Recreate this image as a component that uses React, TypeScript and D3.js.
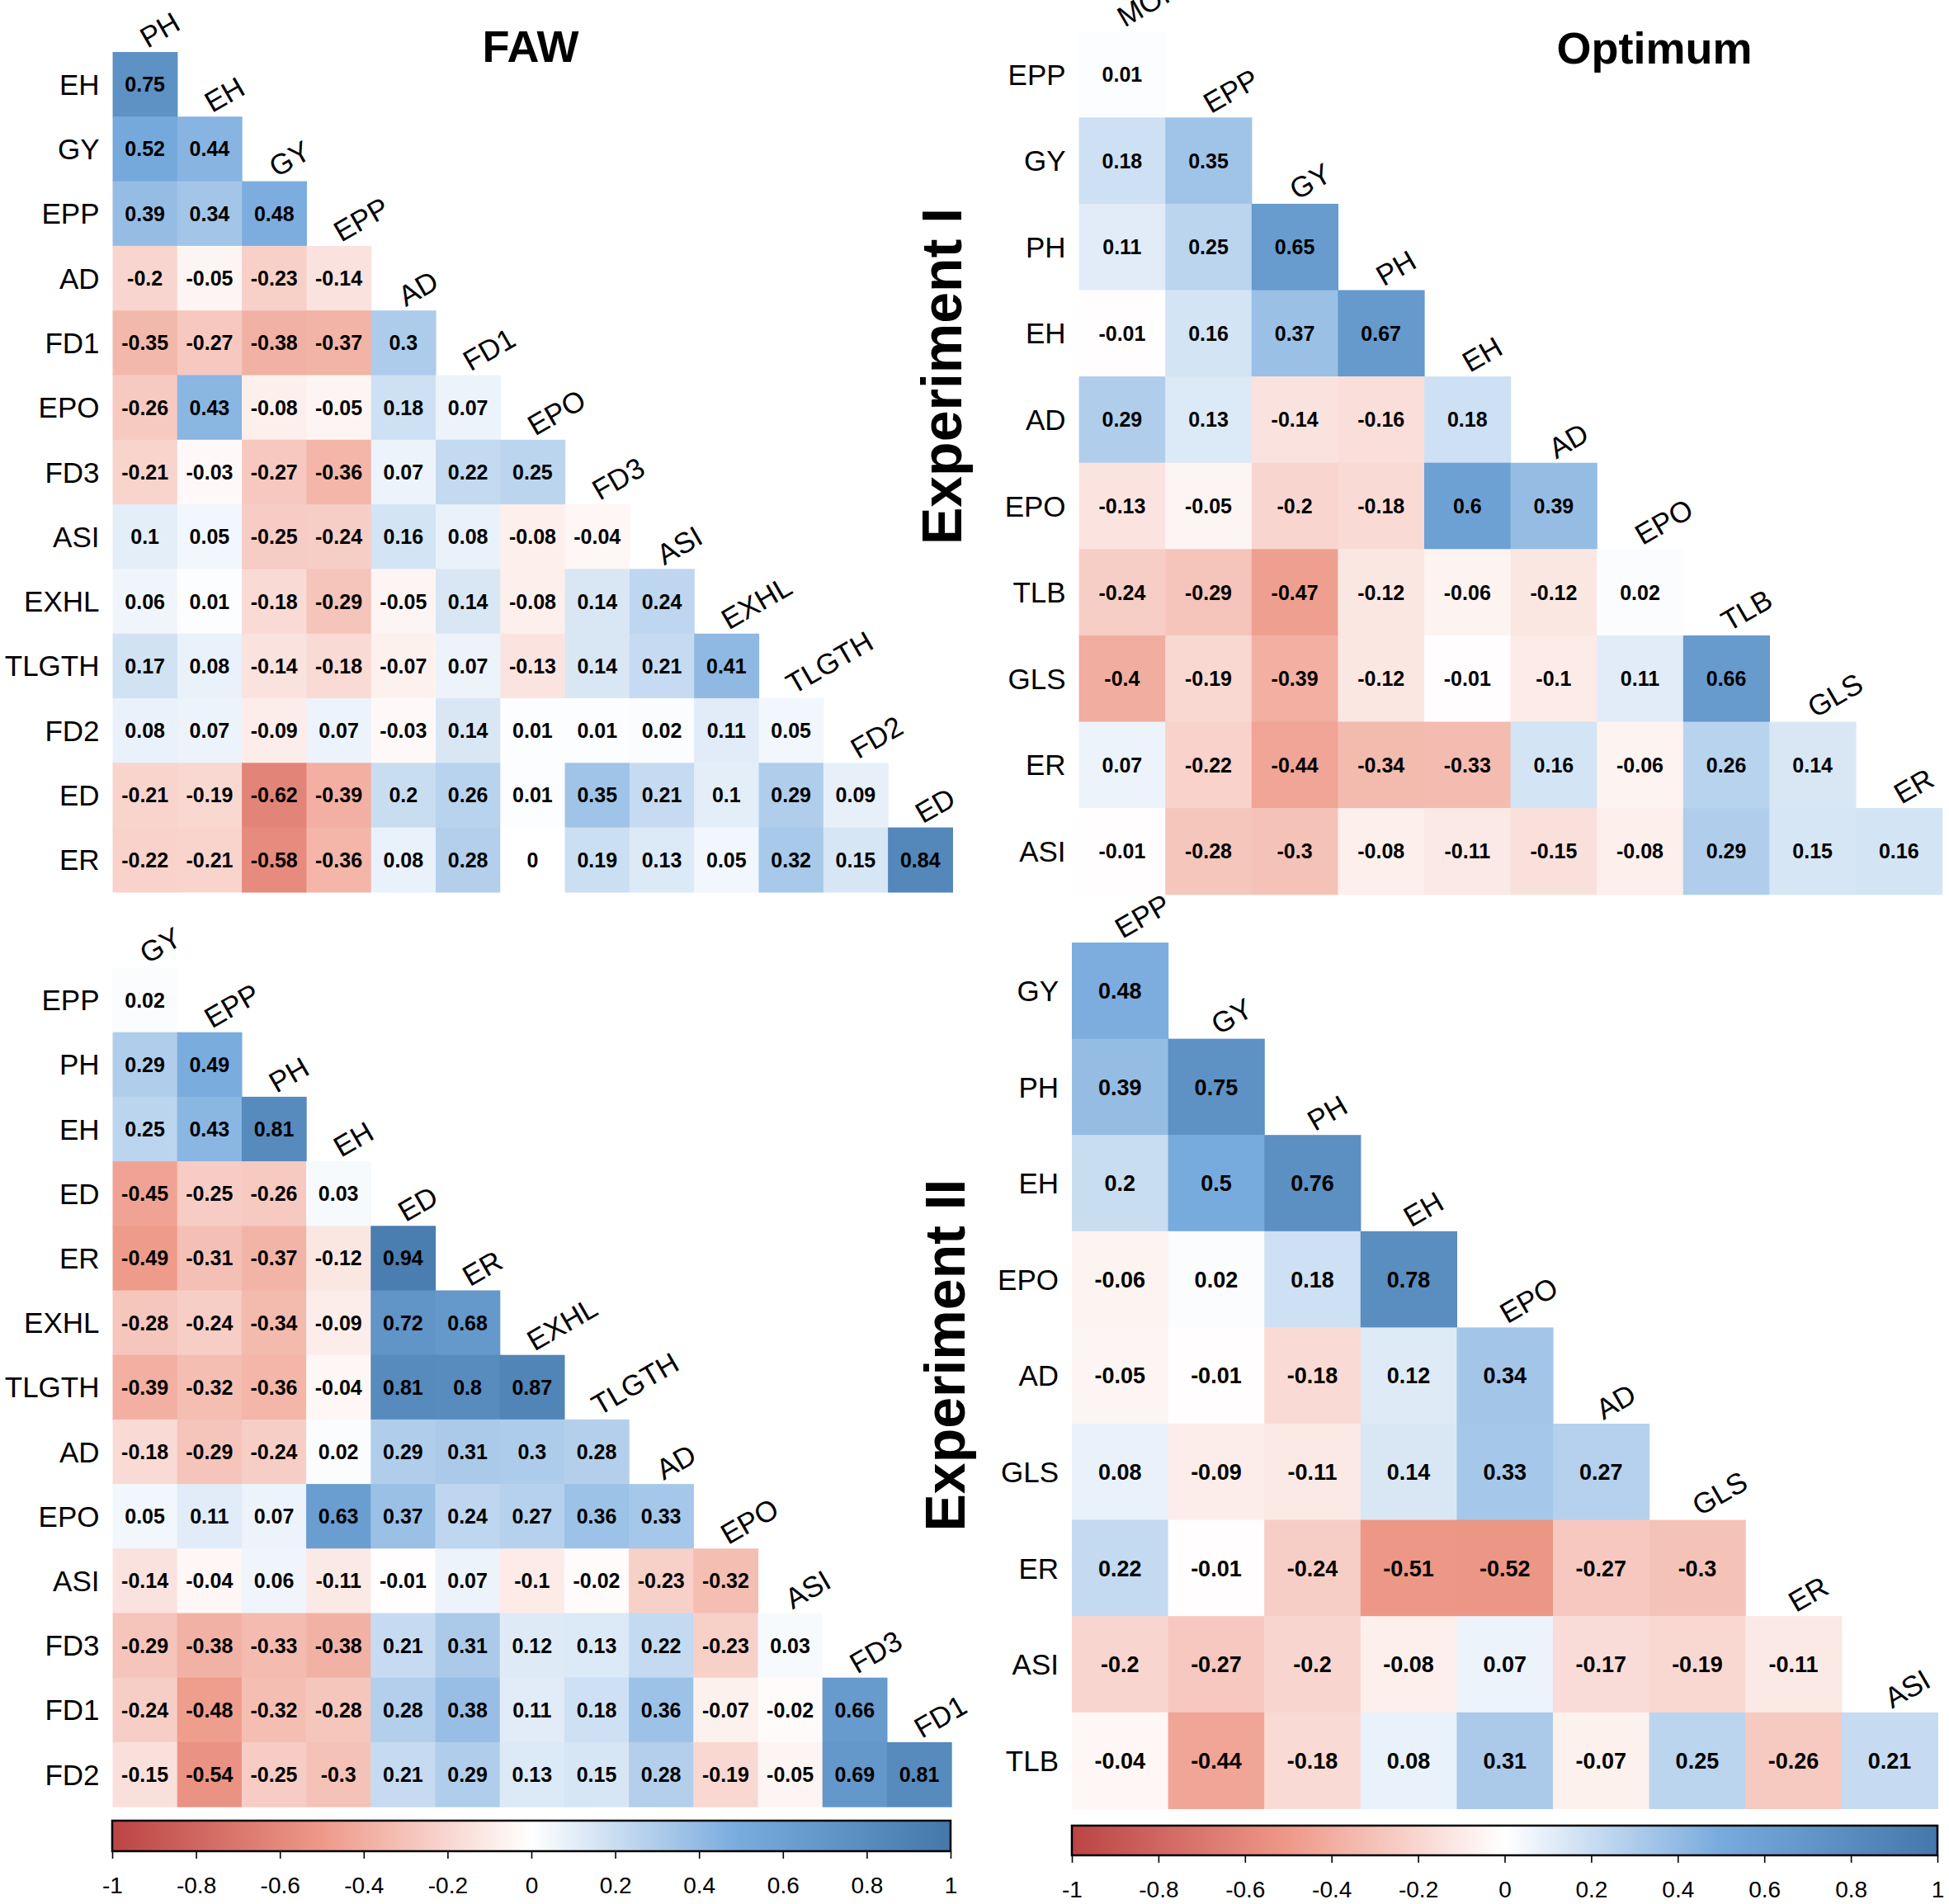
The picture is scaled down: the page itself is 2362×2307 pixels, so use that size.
import React, {useRef, useEffect} from 'react'
import * as d3 from 'd3'

// colour ramp used by the cells and the legends
const palette = ['#BB4444', '#EE9988', '#FFFFFF', '#77AADD', '#4477AA']
const paletteStops = [-1, -0.5, 0, 0.5, 1]
const legendTicks = [-1, -0.8, -0.6, -0.4, -0.2, 0, 0.2, 0.4, 0.6, 0.8, 1]

// FAW, experiment I
const fawOneVars = ['PH', 'EH', 'GY', 'EPP', 'AD', 'FD1', 'EPO', 'FD3', 'ASI', 'EXHL', 'TLGTH', 'FD2', 'ED', 'ER']
const fawOneValues = [
  [0.75],
  [0.52, 0.44],
  [0.39, 0.34, 0.48],
  [-0.2, -0.05, -0.23, -0.14],
  [-0.35, -0.27, -0.38, -0.37, 0.3],
  [-0.26, 0.43, -0.08, -0.05, 0.18, 0.07],
  [-0.21, -0.03, -0.27, -0.36, 0.07, 0.22, 0.25],
  [0.1, 0.05, -0.25, -0.24, 0.16, 0.08, -0.08, -0.04],
  [0.06, 0.01, -0.18, -0.29, -0.05, 0.14, -0.08, 0.14, 0.24],
  [0.17, 0.08, -0.14, -0.18, -0.07, 0.07, -0.13, 0.14, 0.21, 0.41],
  [0.08, 0.07, -0.09, 0.07, -0.03, 0.14, 0.01, 0.01, 0.02, 0.11, 0.05],
  [-0.21, -0.19, -0.62, -0.39, 0.2, 0.26, 0.01, 0.35, 0.21, 0.1, 0.29, 0.09],
  [-0.22, -0.21, -0.58, -0.36, 0.08, 0.28, 0, 0.19, 0.13, 0.05, 0.32, 0.15, 0.84]
]

// Optimum, experiment I
const optOneVars = ['MOI', 'EPP', 'GY', 'PH', 'EH', 'AD', 'EPO', 'TLB', 'GLS', 'ER', 'ASI']
const optOneValues = [
  [0.01],
  [0.18, 0.35],
  [0.11, 0.25, 0.65],
  [-0.01, 0.16, 0.37, 0.67],
  [0.29, 0.13, -0.14, -0.16, 0.18],
  [-0.13, -0.05, -0.2, -0.18, 0.6, 0.39],
  [-0.24, -0.29, -0.47, -0.12, -0.06, -0.12, 0.02],
  [-0.4, -0.19, -0.39, -0.12, -0.01, -0.1, 0.11, 0.66],
  [0.07, -0.22, -0.44, -0.34, -0.33, 0.16, -0.06, 0.26, 0.14],
  [-0.01, -0.28, -0.3, -0.08, -0.11, -0.15, -0.08, 0.29, 0.15, 0.16]
]

// FAW, experiment II
const fawTwoVars = ['GY', 'EPP', 'PH', 'EH', 'ED', 'ER', 'EXHL', 'TLGTH', 'AD', 'EPO', 'ASI', 'FD3', 'FD1', 'FD2']
const fawTwoValues = [
  [0.02],
  [0.29, 0.49],
  [0.25, 0.43, 0.81],
  [-0.45, -0.25, -0.26, 0.03],
  [-0.49, -0.31, -0.37, -0.12, 0.94],
  [-0.28, -0.24, -0.34, -0.09, 0.72, 0.68],
  [-0.39, -0.32, -0.36, -0.04, 0.81, 0.8, 0.87],
  [-0.18, -0.29, -0.24, 0.02, 0.29, 0.31, 0.3, 0.28],
  [0.05, 0.11, 0.07, 0.63, 0.37, 0.24, 0.27, 0.36, 0.33],
  [-0.14, -0.04, 0.06, -0.11, -0.01, 0.07, -0.1, -0.02, -0.23, -0.32],
  [-0.29, -0.38, -0.33, -0.38, 0.21, 0.31, 0.12, 0.13, 0.22, -0.23, 0.03],
  [-0.24, -0.48, -0.32, -0.28, 0.28, 0.38, 0.11, 0.18, 0.36, -0.07, -0.02, 0.66],
  [-0.15, -0.54, -0.25, -0.3, 0.21, 0.29, 0.13, 0.15, 0.28, -0.19, -0.05, 0.69, 0.81]
]

// Optimum, experiment II
const optTwoVars = ['EPP', 'GY', 'PH', 'EH', 'EPO', 'AD', 'GLS', 'ER', 'ASI', 'TLB']
const optTwoValues = [
  [0.48],
  [0.39, 0.75],
  [0.2, 0.5, 0.76],
  [-0.06, 0.02, 0.18, 0.78],
  [-0.05, -0.01, -0.18, 0.12, 0.34],
  [0.08, -0.09, -0.11, 0.14, 0.33, 0.27],
  [0.22, -0.01, -0.24, -0.51, -0.52, -0.27, -0.3],
  [-0.2, -0.27, -0.2, -0.08, 0.07, -0.17, -0.19, -0.11],
  [-0.04, -0.44, -0.18, 0.08, 0.31, -0.07, 0.25, -0.26, 0.21]
]

const FONT = "Arial, 'Liberation Sans', Helvetica, sans-serif"
const WIDTH = 2362
const HEIGHT = 2307

export default function App() {
  const svgRef = useRef(null)

  useEffect(() => {
    const svg = d3.select(svgRef.current)
    svg.selectAll('*').remove()

    const color = d3.scaleLinear().domain(paletteStops).range(palette).clamp(true)

    drawPanel(svg, color, {vars: fawOneVars, values: fawOneValues, x: 136.5, y: 63, cell: 78.3, numSize: 25})
    drawPanel(svg, color, {vars: optOneVars, values: optOneValues, x: 1307.6, y: 37.7, cell: 104.6, numSize: 25})
    drawPanel(svg, color, {vars: fawTwoVars, values: fawTwoValues, x: 136.5, y: 1172.5, cell: 78.2, numSize: 25})
    drawPanel(svg, color, {vars: optTwoVars, values: optTwoValues, x: 1299, y: 1142, cell: 116.6, numSize: 27})

    drawLegend(svg, 'grad-left', {x0: 136, x1: 1152, y: 2206, h: 37})
    drawLegend(svg, 'grad-right', {x0: 1299, x1: 2348, y: 2212, h: 36})

    // titles
    svg.append('text').attr('x', 643).attr('y', 75).attr('text-anchor', 'middle')
      .attr('font-size', 54).attr('font-weight', 'bold').text('FAW')
    svg.append('text').attr('x', 2005).attr('y', 77).attr('text-anchor', 'middle')
      .attr('font-size', 54).attr('font-weight', 'bold').text('Optimum')

    svg.append('text').attr('transform', 'translate(1165,456) rotate(-90)').attr('text-anchor', 'middle')
      .attr('font-size', 68).attr('font-weight', 'bold').text('Experiment I')
    svg.append('text').attr('transform', 'translate(1169,1642) rotate(-90)').attr('text-anchor', 'middle')
      .attr('font-size', 68).attr('font-weight', 'bold').text('Experiment II')
  }, [])

  function drawPanel(svg, color, {vars, values, x, y, cell, numSize}) {
    const n = vars.length - 1
    const xScale = d3.scaleBand().domain(vars.slice(0, n)).range([x, x + n * cell])
    const yScale = d3.scaleBand().domain(vars.slice(1)).range([y, y + n * cell])
    const bw = xScale.bandwidth()

    const cells = values.flatMap((row, i) => row.map((v, j) => ({row: vars[i + 1], col: vars[j], v})))

    const g = svg.append('g')

    g.selectAll('rect')
      .data(cells)
      .join('rect')
      .attr('x', d => xScale(d.col))
      .attr('y', d => yScale(d.row))
      .attr('width', bw + 0.6)
      .attr('height', yScale.bandwidth() + 0.6)
      .attr('fill', d => color(d.v))

    g.selectAll('text.num')
      .data(cells)
      .join('text')
      .attr('class', 'num')
      .attr('x', d => xScale(d.col) + bw / 2)
      .attr('y', d => yScale(d.row) + yScale.bandwidth() / 2)
      .attr('dy', '0.36em')
      .attr('text-anchor', 'middle')
      .attr('font-size', numSize)
      .attr('font-weight', 'bold')
      .text(d => String(d.v))

    // row labels on the left
    g.selectAll('text.row')
      .data(vars.slice(1))
      .join('text')
      .attr('class', 'row')
      .attr('x', x - 16)
      .attr('y', d => yScale(d) + yScale.bandwidth() / 2)
      .attr('dy', '0.36em')
      .attr('text-anchor', 'end')
      .attr('font-size', 35)
      .text(d => d)

    // column labels along the diagonal, tilted
    g.selectAll('text.col')
      .data(vars.slice(0, n))
      .join('text')
      .attr('class', 'col')
      .attr('transform', (d, i) => {
        const cx = xScale(d) + bw / 2 + 3
        const cy = yScale(vars[i + 1]) - 4
        return `translate(${cx},${cy}) rotate(-30)`
      })
      .attr('font-size', 35)
      .text(d => d)
  }

  function drawLegend(svg, id, {x0, x1, y, h}) {
    const scale = d3.scaleLinear().domain([-1, 1]).range([x0, x1])

    const gradient = svg
      .append('defs')
      .append('linearGradient')
      .attr('id', id)
      .attr('x1', '0%')
      .attr('x2', '100%')
      .attr('y1', '0%')
      .attr('y2', '0%')

    paletteStops.forEach((s, i) => {
      gradient
        .append('stop')
        .attr('offset', `${((s + 1) / 2) * 100}%`)
        .style('stop-color', palette[i])
    })

    svg
      .append('rect')
      .attr('x', x0)
      .attr('y', y)
      .attr('width', x1 - x0)
      .attr('height', h)
      .style('fill', `url(#${id})`)
      .attr('stroke', 'black')
      .attr('stroke-width', 2.5)

    const axis = svg
      .append('g')
      .attr('transform', `translate(0, ${y + h})`)
      .call(
        d3
          .axisBottom(scale)
          .tickValues(legendTicks)
          .tickSize(9)
          .tickFormat(d => String(+(+d).toFixed(1)))
      )

    axis.select('.domain').remove()
    axis.selectAll('line').attr('stroke', 'black').attr('stroke-width', 1.6)
    axis
      .selectAll('text')
      .attr('y', 31)
      .attr('fill', 'black')
      .attr('font-size', 28)
      .attr('font-family', FONT)
  }

  return (
    <div>
      <svg
        ref={svgRef}
        width={WIDTH}
        height={HEIGHT}
        fontFamily={FONT}
        style={{position: 'absolute', left: 0, top: 0, background: 'white'}}
      />
    </div>
  )
}
